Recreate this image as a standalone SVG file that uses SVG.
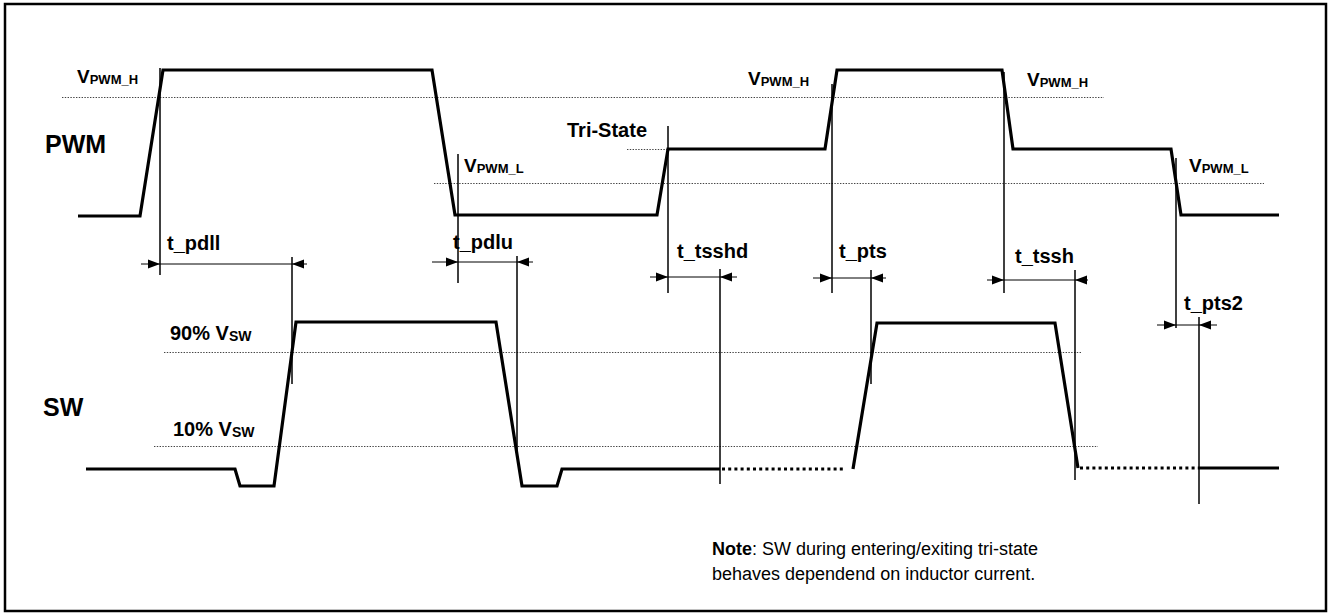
<svg xmlns="http://www.w3.org/2000/svg" xmlns:xlink="http://www.w3.org/1999/xlink" width="1330" height="616" viewBox="0 0 1330 616">
<style>
.wave{fill:none;stroke:#000;stroke-width:3.2;stroke-linejoin:miter}
.tri{fill:none;stroke:#000;stroke-width:3.2;stroke-dasharray:3 3.2}
.thr{fill:none;stroke:#444;stroke-width:1;stroke-dasharray:1.4 1.4}
.ext{stroke:#000;stroke-width:1.5}
.dim{stroke:#000;stroke-width:1}
.lbl{font-family:"Liberation Sans",Arial,sans-serif;font-weight:bold;fill:#000}
.note{font-family:"Liberation Sans",Arial,sans-serif;fill:#000}
</style>
<defs>
<path id="arR" d="M-12,-4.5 L0,0 L-12,4.5 Z" fill="#000"/>
<path id="arL" d="M12,-4.5 L0,0 L12,4.5 Z" fill="#000"/>
</defs>
<rect x="5" y="4" width="1321" height="607" fill="#fff" stroke="#000" stroke-width="2.5"/>

<g id="thresholds">
<line class="thr" x1="62" y1="97.5" x2="1104" y2="97.5"/>
<line class="thr" x1="434" y1="183.5" x2="1264" y2="183.5"/>
<line class="thr" x1="627" y1="149.5" x2="668" y2="149.5"/>
<line class="thr" x1="164" y1="352.5" x2="1081" y2="352.5"/>
<line class="thr" x1="154" y1="446.5" x2="1098" y2="446.5"/>
</g>

<g id="pwm-wave">
<path class="wave" d="M78,216 L140,216 L163,70 L432,70 L455,215 L657,215 L668,149 L825,149 L837,70 L1002,70 L1013,149 L1171,149 L1181,215 L1279,215"/>
</g>

<g id="sw-wave">
<path class="wave" d="M86,469 L235,469 L240,486 L274,486 L296,322 L496,322 L522,486 L557,486 L562,469 L720,469"/>
<line class="tri" x1="722" y1="469" x2="844" y2="469"/>
<path class="wave" d="M853,469 L877,323 L1055,323 L1078,468"/>
<line class="tri" x1="1080" y1="468" x2="1198" y2="468"/>
<line class="wave" x1="1198" y1="468" x2="1279" y2="468"/>
</g>

<g id="connectors">
<line class="ext" x1="160" y1="68" x2="160" y2="275"/>
<line class="ext" x1="292" y1="257" x2="292" y2="384"/>
<line class="dim" x1="141" y1="264" x2="307" y2="264"/>
<use xlink:href="#arR" x="160" y="264"/>
<use xlink:href="#arL" x="292" y="264"/>

<line class="ext" x1="458" y1="154" x2="458" y2="283"/>
<line class="ext" x1="517" y1="256" x2="517" y2="458"/>
<line class="dim" x1="432" y1="262" x2="533" y2="262"/>
<use xlink:href="#arR" x="458" y="262"/>
<use xlink:href="#arL" x="517" y="262"/>

<line class="ext" x1="668" y1="126" x2="668" y2="293"/>
<line class="ext" x1="720" y1="269" x2="720" y2="484"/>
<line class="dim" x1="650" y1="277" x2="737" y2="277"/>
<use xlink:href="#arR" x="668" y="277"/>
<use xlink:href="#arL" x="720" y="277"/>

<line class="ext" x1="832" y1="84" x2="832" y2="293"/>
<line class="ext" x1="871" y1="270" x2="871" y2="384"/>
<line class="dim" x1="813" y1="278" x2="886" y2="278"/>
<use xlink:href="#arR" x="832" y="278"/>
<use xlink:href="#arL" x="871" y="278"/>

<line class="ext" x1="1004" y1="72" x2="1004" y2="293"/>
<line class="ext" x1="1075" y1="270" x2="1075" y2="480"/>
<line class="dim" x1="987" y1="280" x2="1088" y2="280"/>
<use xlink:href="#arR" x="1004" y="280"/>
<use xlink:href="#arL" x="1075" y="280"/>

<line class="ext" x1="1176" y1="158" x2="1176" y2="328"/>
<line class="ext" x1="1199" y1="317" x2="1199" y2="504"/>
<line class="dim" x1="1157" y1="325" x2="1217" y2="325"/>
<use xlink:href="#arR" x="1176" y="325"/>
<use xlink:href="#arL" x="1199" y="325"/>
</g>

<g id="signal-labels">
<text class="lbl" x="45" y="153" font-size="25">PWM</text>
<text class="lbl" x="43" y="416" font-size="25">SW</text>
</g>

<g id="level-labels">
<text class="lbl" x="77" y="83" font-size="19">V<tspan font-size="13" dy="1">PWM_H</tspan></text>
<text class="lbl" x="748" y="85" font-size="19">V<tspan font-size="13" dy="1">PWM_H</tspan></text>
<text class="lbl" x="1027" y="86" font-size="19">V<tspan font-size="13" dy="1">PWM_H</tspan></text>
<text class="lbl" x="464" y="172" font-size="19">V<tspan font-size="13" dy="1">PWM_L</tspan></text>
<text class="lbl" x="1189" y="172" font-size="19">V<tspan font-size="13" dy="1">PWM_L</tspan></text>
<text class="lbl" x="567" y="137" font-size="20">Tri-State</text>
<text class="lbl" x="170" y="340" font-size="20">90% V<tspan font-size="14" dy="1">SW</tspan></text>
<text class="lbl" x="173" y="436" font-size="20">10% V<tspan font-size="14" dy="1">SW</tspan></text>
</g>

<g id="timing-labels">
<text class="lbl" x="167" y="250" font-size="20">t_pdll</text>
<text class="lbl" x="453" y="249" font-size="20">t_pdlu</text>
<text class="lbl" x="677" y="258" font-size="20">t_tsshd</text>
<text class="lbl" x="839" y="258" font-size="20">t_pts</text>
<text class="lbl" x="1015" y="263" font-size="20">t_tssh</text>
<text class="lbl" x="1184" y="310" font-size="20">t_pts2</text>
</g>

<g id="note">
<text class="note" x="712" y="555" font-size="18"><tspan font-weight="bold">Note</tspan>: SW during entering/exiting tri-state</text>
<text class="note" x="712" y="580" font-size="18">behaves dependend on inductor current.</text>
</g>
</svg>
